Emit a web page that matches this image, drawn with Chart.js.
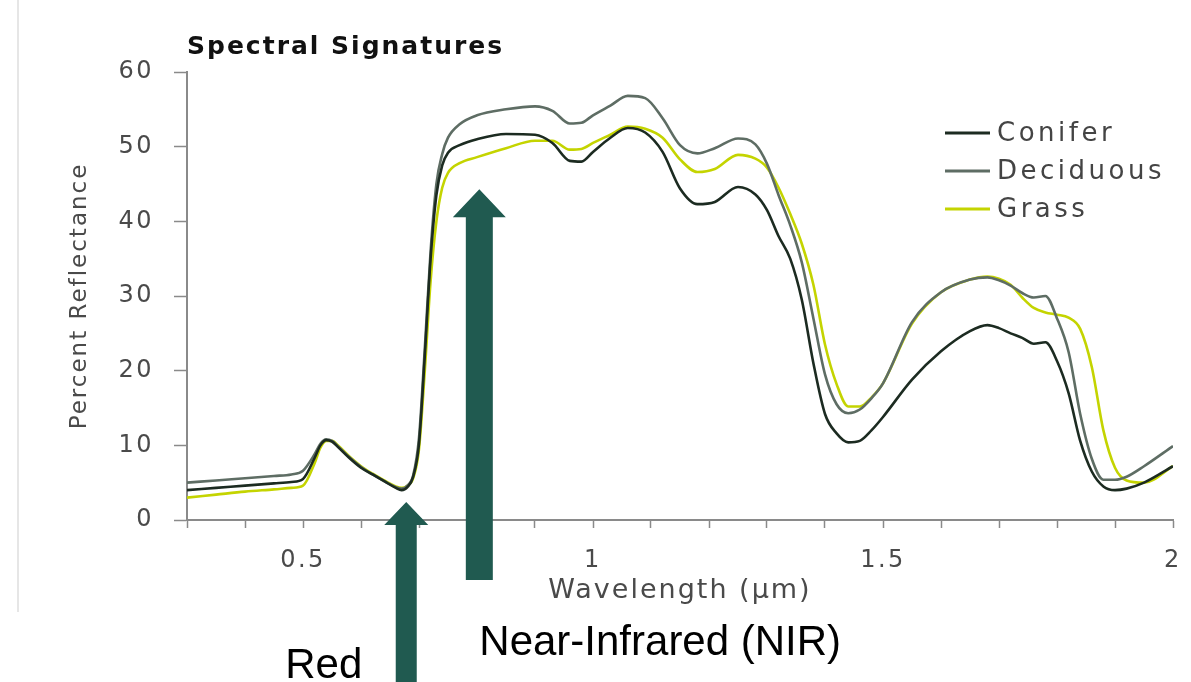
<!DOCTYPE html>
<html>
<head>
<meta charset="utf-8">
<title>Spectral Signatures</title>
<script src="https://cdn.jsdelivr.net/npm/chart.js@4.4.1/dist/chart.umd.min.js"></script>
<style>
  html, body { margin: 0; padding: 0; background: #fff; }
  #wrap { position: relative; width: 1191px; height: 682px; overflow: hidden; }
  #edge { position: absolute; left: 17px; top: 0; width: 2px; height: 612px; background: #e6e6e6; }
  canvas { position: absolute; left: 0; top: 0; }
</style>
</head>
<body>
<div id="wrap">
  <div id="edge"></div>
  <canvas id="myChart" width="1191" height="682"></canvas>
</div>
<script>
// wavelength in micrometres
var wavelengths = [0.30, 0.35, 0.40, 0.45, 0.48, 0.50, 0.52, 0.53, 0.54, 0.55, 0.56, 0.58,
  0.60, 0.62, 0.64, 0.66, 0.67, 0.68, 0.69, 0.70, 0.71, 0.72, 0.73, 0.74, 0.75,
  0.77, 0.80, 0.85, 0.90, 0.93, 0.96, 0.98, 1.00, 1.03, 1.06, 1.09, 1.12, 1.15, 1.18, 1.21, 1.25, 1.28,
  1.30, 1.32, 1.34, 1.36, 1.38, 1.40, 1.42, 1.44, 1.46, 1.48, 1.50, 1.55, 1.60, 1.65, 1.68,
  1.70, 1.72, 1.74, 1.76, 1.78, 1.80, 1.82, 1.84, 1.86, 1.88, 1.90, 1.92, 1.95, 2.00];

// percent reflectance
var conifer = [4.0, 4.3, 4.6, 4.9, 5.1, 5.5, 8.3, 10.0, 10.7, 10.5, 9.8, 8.3,
  7.0, 6.1, 5.2, 4.3, 4.0, 4.4, 5.8, 10.2, 22.0, 35.0, 43.5, 47.5, 49.2,
  50.2, 51.0, 51.7, 51.6, 50.5, 48.1, 48.0, 49.3, 51.2, 52.5, 51.9, 49.3, 44.4, 42.3, 42.6, 44.6, 43.6,
  41.5, 38.0, 35.0, 29.5, 21.0, 14.2, 11.6, 10.4, 10.6, 12.0, 13.8, 18.8, 22.6, 25.3, 26.1,
  25.7, 25.0, 24.4, 23.6, 23.8, 21.3, 17.0, 10.6, 6.5, 4.5, 4.0, 4.2, 5.0, 7.2];

var deciduous = [5.0, 5.3, 5.6, 5.9, 6.1, 6.6, 8.8, 10.2, 10.8, 10.6, 9.9, 8.4,
  7.1, 6.1, 5.2, 4.4, 4.2, 4.6, 6.0, 11.0, 23.0, 36.0, 45.0, 49.0, 51.2,
  53.0, 54.2, 55.0, 55.4, 54.8, 53.1, 53.2, 54.2, 55.5, 56.8, 56.5, 53.8, 50.2, 49.1, 49.8, 51.1, 50.3,
  47.7, 43.5, 39.5, 34.5, 27.0, 19.5, 15.5, 14.3, 14.8, 16.3, 18.3, 26.5, 30.5, 32.2, 32.5,
  32.1, 31.4, 30.4, 29.8, 30.0, 27.0, 22.5, 14.2, 8.2, 5.4, 5.4, 5.8, 7.2, 9.9];

var grass = [3.0, 3.4, 3.8, 4.1, 4.3, 4.6, 7.6, 9.7, 10.6, 10.6, 10.0, 8.5,
  7.2, 6.2, 5.3, 4.5, 4.3, 4.6, 5.6, 9.5, 20.0, 32.0, 40.0, 44.5, 46.5,
  47.8, 48.6, 49.8, 50.8, 50.8, 49.6, 49.7, 50.5, 51.6, 52.7, 52.4, 51.2, 48.3, 46.6, 47.0, 48.9, 48.4,
  47.2, 44.5, 41.0, 37.0, 31.5, 23.5, 18.2, 15.2, 15.2, 16.4, 18.3, 26.3, 30.5, 32.2, 32.6,
  32.3, 31.5, 29.8, 28.4, 27.8, 27.5, 27.1, 25.6, 20.5, 12.0, 7.0, 5.3, 5.0, 7.2];

var xTickLabels = [0.5, 1, 1.5, 2];

// wavelengths the two band arrows point at
var redBand = 0.678;
var nirBand = 0.804;

function points(values) {
  return wavelengths.map(function (w, i) { return { x: w, y: values[i] }; });
}

var axisGray = "#8a8a8a";
var textGray = "#4a4a4a";
var font = "DejaVu Sans";

// canvas letter spacing: titles drawn before the lines, tick labels after
var spacing = {
  id: "spacing",
  beforeDraw: function (c) { c.ctx.letterSpacing = "2px"; },
  afterDatasetsDraw: function (c) { c.ctx.letterSpacing = "2.5px"; }
};

function arrow(ctx, cx, tip, bottom, headH, headW, shaftW) {
  ctx.beginPath();
  ctx.moveTo(cx, tip);
  ctx.lineTo(cx + headW / 2, tip + headH);
  ctx.lineTo(cx + shaftW / 2, tip + headH);
  ctx.lineTo(cx + shaftW / 2, bottom);
  ctx.lineTo(cx - shaftW / 2, bottom);
  ctx.lineTo(cx - shaftW / 2, tip + headH);
  ctx.lineTo(cx - headW / 2, tip + headH);
  ctx.closePath();
  ctx.fill();
}

var extras = {
  id: "extras",
  afterDraw: function (c) {
    var ctx = c.ctx, a = c.chartArea, xs = c.scales.x, ys = c.scales.y;
    ctx.save();
    // legend
    ctx.letterSpacing = "3.5px";
    ctx.font = "26px '" + font + "'";
    ctx.textBaseline = "middle";
    ctx.textAlign = "left";
    c.data.datasets.forEach(function (ds, i) {
      var ly = a.top + 61 + i * 38;
      ctx.strokeStyle = ds.borderColor;
      ctx.lineWidth = 3;
      ctx.beginPath();
      ctx.moveTo(a.right - 228, ly);
      ctx.lineTo(a.right - 183, ly);
      ctx.stroke();
      ctx.fillStyle = "#444";
      ctx.fillText(ds.label, a.right - 176, ly + 1);
    });
    // band arrows
    ctx.fillStyle = "#205a50";
    var rx = xs.getPixelForValue(redBand);
    var nx = xs.getPixelForValue(nirBand);
    arrow(ctx, rx, ys.getPixelForValue(2.4), c.height, 23, 44, 21);
    arrow(ctx, nx, ys.getPixelForValue(44.3), a.bottom + 60, 28, 53, 27);
    // band labels
    ctx.letterSpacing = "0px";
    ctx.fillStyle = "#000";
    ctx.font = "42px 'Liberation Sans'";
    ctx.textBaseline = "alphabetic";
    ctx.textAlign = "right";
    ctx.fillText("Red", rx - 44, a.bottom + 158);
    ctx.textAlign = "left";
    ctx.fillText("Near-Infrared (NIR)", nx, a.bottom + 135);
    ctx.restore();
  }
};

var ctx = document.getElementById("myChart");
var chart = new Chart(ctx, {
  type: "line",
  data: {
    datasets: [
      { label: "Conifer", data: points(conifer), borderColor: "#1c2b21", borderWidth: 2.6 },
      { label: "Deciduous", data: points(deciduous), borderColor: "#5e6d64", borderWidth: 2.6 },
      { label: "Grass", data: points(grass), borderColor: "#c4d400", borderWidth: 2.6 }
    ]
  },
  options: {
    responsive: false,
    animation: false,
    layout: { padding: { left: 0, right: 18, top: 0, bottom: 72 } },
    elements: {
      point: { radius: 0 },
      line: { fill: false, cubicInterpolationMode: "monotone" }
    },
    plugins: {
      legend: { display: false },
      tooltip: { enabled: false },
      title: {
        display: true,
        text: "Spectral Signatures",
        align: "start",
        fullSize: false,
        color: "#111",
        font: { family: font, size: 25, weight: "bold", lineHeight: 1.2 },
        padding: { top: 32, bottom: 10 }
      }
    },
    scales: {
      x: {
        type: "linear",
        min: 0.3,
        max: 2.0,
        afterFit: function (s) {
          s.height = 90;
          s.paddingLeft = 0;
          s.paddingRight = 0;
        },
        border: { color: axisGray, width: 2 },
        grid: { drawOnChartArea: false, tickLength: 8, color: axisGray, tickWidth: 1.5 },
        ticks: {
          stepSize: 0.1,
          autoSkip: false,
          maxRotation: 0,
          padding: 18,
          z: 1,
          color: textGray,
          font: { family: font, size: 24 },
          callback: function (v) {
            var show = xTickLabels.some(function (l) { return Math.abs(l - v) < 1e-6; });
            return show ? String(+v.toFixed(1)) : "";
          }
        },
        title: {
          display: true,
          text: "Wavelength (µm)",
          color: textGray,
          font: { family: font, size: 27, lineHeight: 1.2 },
          padding: { top: 0, bottom: 3 }
        }
      },
      y: {
        min: 0,
        max: 60,
        afterFit: function (s) {
          s.width = 187;
          s.paddingTop = 0;
          s.paddingBottom = 0;
        },
        border: { color: axisGray, width: 2 },
        grid: { drawOnChartArea: false, tickLength: 13, color: axisGray, tickWidth: 1.5 },
        ticks: {
          stepSize: 10,
          padding: 20,
          z: 1,
          color: textGray,
          font: { family: font, size: 24 }
        },
        title: {
          display: true,
          text: "Percent Reflectance",
          color: textGray,
          font: { family: font, size: 23, lineHeight: 1.2 },
          padding: { top: 66, bottom: 0 }
        }
      }
    }
  },
  plugins: [spacing, extras]
});
</script>
</body>
</html>
